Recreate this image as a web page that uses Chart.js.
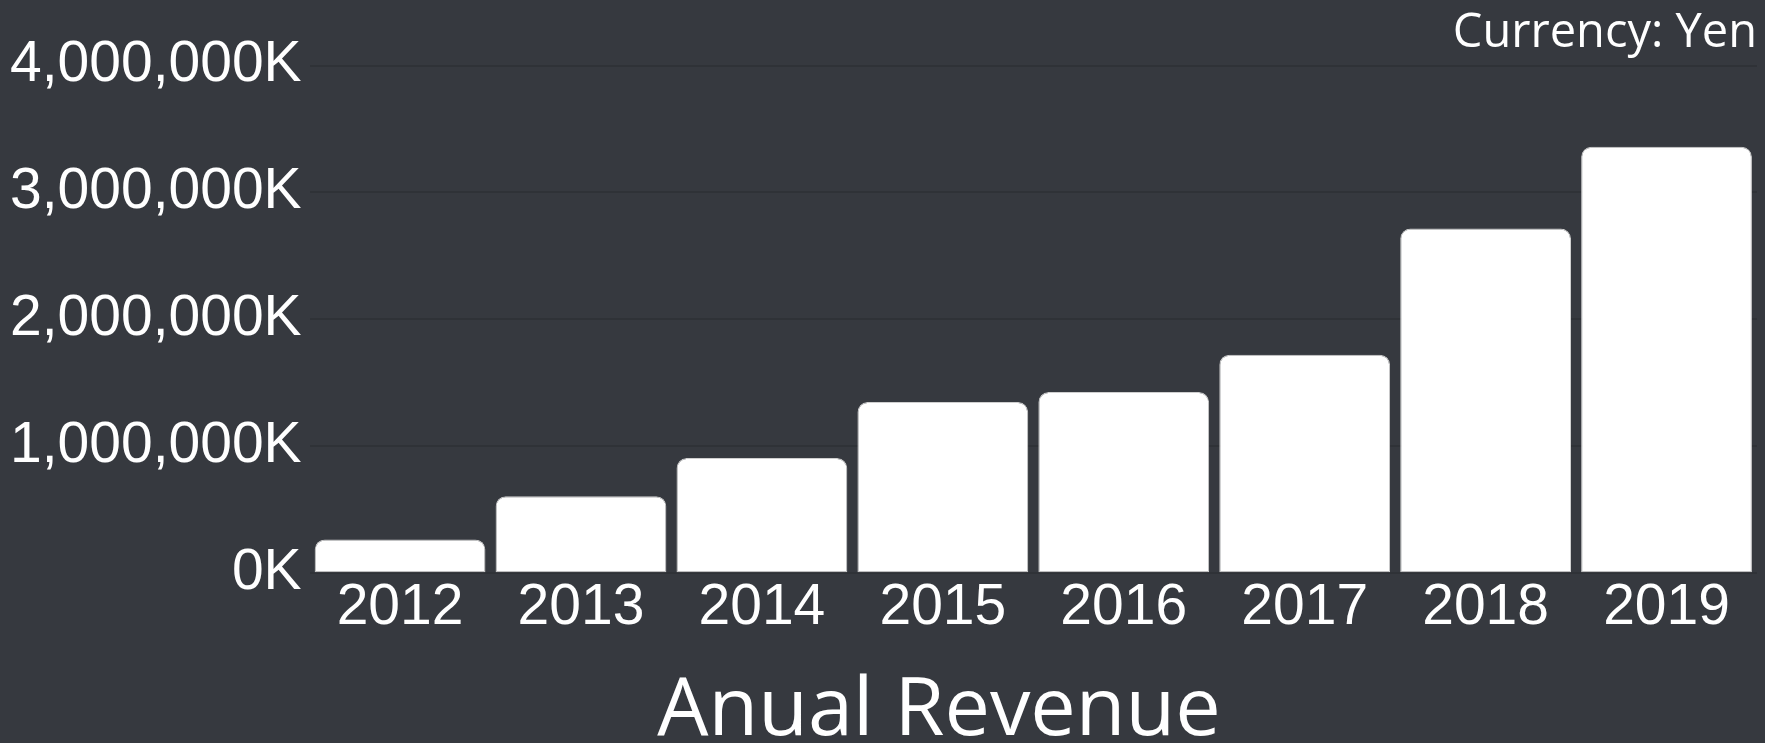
<!DOCTYPE html>
<html>
<head>
<meta charset="utf-8">
<script src="https://cdn.jsdelivr.net/npm/chart.js@4/dist/chart.umd.min.js"></script>
<style>
  html, body { margin: 0; padding: 0; background: #36393f; }
  #wrap { width: 1765px; height: 743px; position: relative; }
</style>
</head>
<body>
<div id="wrap"><canvas id="c" width="1765" height="743"></canvas></div>
<script>
const categories = ['2012', '2013', '2014', '2015', '2016', '2017', '2018', '2019'];
const revenueK = [266000, 607000, 907000, 1349000, 1427000, 1722000, 2716000, 3360000];
const yTicks = [0, 1000000, 2000000, 3000000, 4000000];
const chartTitle = 'Anual Revenue';
const currencyNote = 'Currency: Yen';

const bottomTitle = {
  id: 'bottomTitle',
  afterDraw(chart) {
    const ctx = chart.ctx;
    ctx.save();
    ctx.fillStyle = '#ffffff';
    ctx.font = '81px "Open Sans"';
    ctx.textAlign = 'center';
    ctx.textBaseline = 'alphabetic';
    ctx.fillText(chartTitle, 939, 735);
    ctx.restore();
  }
};

new Chart(document.getElementById('c'), {
  type: 'bar',
  data: {
    labels: categories,
    datasets: [{
      data: revenueK,
      backgroundColor: '#ffffff',
      borderColor: '#cfcfcf',
      borderWidth: 1,
      borderSkipped: false,
      borderRadius: { topLeft: 10, topRight: 10, bottomLeft: 0, bottomRight: 0 },
      barPercentage: 0.944,
      categoryPercentage: 1.0
    }]
  },
  options: {
    responsive: false,
    animation: false,
    layout: { padding: { left: 2, right: 8, top: 0, bottom: 107.8 } },
    plugins: {
      legend: { display: false },
      tooltip: { enabled: false },
      title: {
        display: true,
        text: currencyNote,
        align: 'end',
        color: '#ffffff',
        font: { family: '"Open Sans"', size: 47, weight: 'normal', lineHeight: 1.0 },
        padding: { top: 10.5, bottom: 8 }
      }
    },
    scales: {
      x: {
        grid: { display: false },
        border: { display: false },
        ticks: {
          color: '#ffffff',
          padding: -7.2,
          font: { family: '"Liberation Sans"', size: 57 }
        }
      },
      y: {
        min: 0,
        max: 4000000,
        afterBuildTicks(scale) { scale.ticks = yTicks.map(v => ({ value: v })); },
        grid: { color: 'rgba(0,0,0,0.12)', drawTicks: false, lineWidth: 2 },
        border: { display: false },
        ticks: {
          color: '#ffffff',
          padding: 8,
          font: { family: '"Liberation Sans"', size: 57 },
          callback: (v) => Number(v).toLocaleString('en-US') + 'K'
        }
      }
    }
  },
  plugins: [bottomTitle]
});
</script>
</body>
</html>
